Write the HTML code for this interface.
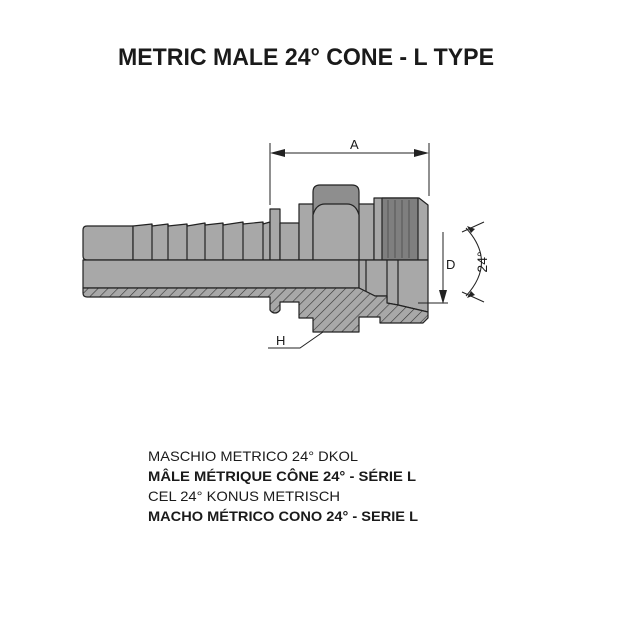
<!DOCTYPE html>
<html><head><meta charset="utf-8"><style>
html,body{margin:0;padding:0;background:#fff;}
svg{display:block;}
text{font-family:"Liberation Sans",sans-serif;fill:#1a1a1a;}
</style></head><body>
<svg width="640" height="640" viewBox="0 0 640 640" xmlns="http://www.w3.org/2000/svg">
<defs>
<pattern id="h" patternUnits="userSpaceOnUse" width="7" height="7" patternTransform="rotate(45)">
<rect width="7" height="7" fill="#a8a8a8"/><line x1="0" y1="0" x2="0" y2="7" stroke="#333" stroke-width="1.2"/>
</pattern>
</defs>
<rect width="640" height="640" fill="#fff"/>
<text x="306" y="65" font-size="24" font-weight="bold" text-anchor="middle" textLength="376" lengthAdjust="spacingAndGlyphs">METRIC MALE 24° CONE - L TYPE</text>

<g stroke="#222" stroke-width="1.2" stroke-linejoin="round">
<path d="M87,226 L133,226 L133,260 L87,260 Q83,260 83,256 L83,230 Q83,226 87,226Z" fill="#a8a8a8"/>
<path d="M133,226 L152,224 L152,226 L168,224 L168,226 L187,224 L187,226 L205,223 L205,225 L223,223 L223,225 L243,222 L243,224 L263,222 L263,224 L270,222 L270,260 L133,260Z" fill="#a8a8a8"/>
<g fill="none">
<line x1="152" y1="224" x2="152" y2="260"/><line x1="168" y1="224" x2="168" y2="260"/>
<line x1="187" y1="224" x2="187" y2="260"/><line x1="205" y1="223" x2="205" y2="260"/>
<line x1="223" y1="223" x2="223" y2="260"/><line x1="243" y1="222" x2="243" y2="260"/>
<line x1="263" y1="222" x2="263" y2="260"/>
</g>
<path d="M270,209 L280,209 L280,260 L270,260Z" fill="#a8a8a8"/>
<path d="M280,223 L299,223 L299,260 L280,260Z" fill="#a8a8a8"/>
<path d="M299,204 L374,204 L374,260 L299,260Z" fill="#a8a8a8"/>
<path d="M313,260 L313,192 Q313,185 320,185 L352,185 Q359,185 359,192 L359,260Z" fill="#8e8e8e"/>
<path d="M313,260 L313,215 Q316,204 325,204 L347,204 Q356,204 359,215 L359,260Z" fill="#a8a8a8"/>
<path d="M374,198 L419,198 L428,205 L428,260 L374,260Z" fill="#a8a8a8"/>
<rect x="382" y="198" width="36" height="62" fill="#7f7f7f"/>
<g stroke="#555" stroke-width="1"><line x1="388" y1="200" x2="388" y2="258"/><line x1="395" y1="200" x2="395" y2="258"/><line x1="402" y1="200" x2="402" y2="258"/><line x1="409" y1="200" x2="409" y2="258"/></g>
<path d="M83,260 L359,260 L359,288 L83,288Z" fill="#a8a8a8"/>
<path d="M359,260 L428,260 L428,312 L398,305 L387,303 L387,296 L375,296 L359,288Z" fill="#a8a8a8"/>
<line x1="366" y1="260" x2="366" y2="292"/><line x1="387" y1="260" x2="387" y2="296"/><line x1="398" y1="260" x2="398" y2="305"/>
<path d="M83,288 L359,288 L375,296 L387,296 L387,303 L398,305 L428,312 L428,318 L423,323 L380,323 L380,317 L359,317 L359,332 L313,332 L313,318 L299,318 L299,302 L280,302 L280,310 Q278,313 275,313 Q272,313 270,310 L270,297 L87,297 Q83,297 83,293Z" fill="url(#h)"/>
</g>

<g stroke="#222" stroke-width="1" fill="none">
<line x1="270" y1="143" x2="270" y2="205"/>
<line x1="429" y1="143" x2="429" y2="196"/>
<line x1="274" y1="153" x2="425" y2="153"/>
<line x1="443" y1="232" x2="443" y2="300"/>
<line x1="418" y1="303" x2="448" y2="303"/>
<path d="M466,228 Q497,262 466,296"/>
<line x1="462" y1="232" x2="484" y2="222"/>
<line x1="462" y1="292" x2="484" y2="302"/>
<polyline points="268,348 300,348 323,332"/>
</g>
<g fill="#222">
<polygon points="270,153 285,149 285,157"/>
<polygon points="429,153 414,149 414,157"/>
<polygon points="443,304 439,290 447,290"/>
<polygon points="467,226 475,229 471,233"/>
<polygon points="467,298 475,295 471,291"/>
</g>
<text x="350" y="149" font-size="13">A</text>
<text x="446" y="269" font-size="13">D</text>
<text x="276" y="345" font-size="13">H</text>
<text transform="translate(487,262) rotate(-90)" font-size="14" text-anchor="middle">24°</text>

<text x="148" y="461" font-size="14" textLength="210" lengthAdjust="spacingAndGlyphs">MASCHIO METRICO 24° DKOL</text>
<text x="148" y="481" font-size="14" font-weight="bold" textLength="268" lengthAdjust="spacingAndGlyphs">MÂLE MÉTRIQUE CÔNE 24°  - SÉRIE L</text>
<text x="148" y="501" font-size="14" textLength="192" lengthAdjust="spacingAndGlyphs">CEL 24° KONUS METRISCH</text>
<text x="148" y="521" font-size="14" font-weight="bold" textLength="270" lengthAdjust="spacingAndGlyphs">MACHO MÉTRICO CONO 24°  - SERIE L</text>
</svg>
</body></html>
